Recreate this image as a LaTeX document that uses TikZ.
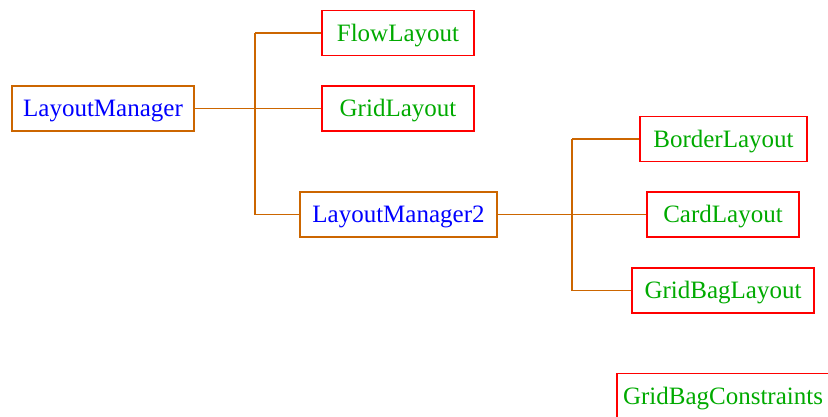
\documentclass[tikz,border=0pt]{standalone}
\usepackage{fontspec}
\setmainfont{Liberation Serif}
\definecolor{linkc}{RGB}{204,102,0}
\definecolor{txtgreen}{RGB}{0,170,0}
\definecolor{txtblue}{RGB}{0,0,255}
\tikzset{
  box/.style={draw, line width=1.3pt, minimum height=45pt, inner sep=0pt, text height=18pt, text depth=2pt, font=\fontsize{25}{30}\selectfont},
  iface/.style={box, draw=linkc, text=txtblue},
  cls/.style={box, draw=red, text=txtgreen},
  link/.style={draw=linkc, line width=1.3pt}
}
\begin{document}
\begin{tikzpicture}[x=1pt,y=-1pt]
\useasboundingbox (0,0) rectangle (828,416);
\node[iface, minimum width=182pt] (lm) at (103,108.5) {LayoutManager};
\node[cls, minimum width=152pt] (fl) at (398,33) {FlowLayout};
\node[cls, minimum width=152pt] (gl) at (398,108.5) {GridLayout};
\node[iface, minimum width=197pt] (lm2) at (398.5,214.5) {LayoutManager2};
\node[cls, minimum width=167pt] (bl) at (723.5,139) {BorderLayout};
\node[cls, minimum width=152pt] (cl) at (723,214.5) {CardLayout};
\node[cls, minimum width=182pt] (gbl) at (723,290.5) {GridBagLayout};
\node[cls, minimum width=212pt] (gbc) at (723,396) {GridBagConstraints};
\coordinate (t1top) at (255,33);
\coordinate (t1mid) at (255,108.5);
\coordinate (t1bot) at (255,214.5);
\coordinate (t2top) at (572,139);
\coordinate (t2mid) at (572,214.5);
\coordinate (t2bot) at (572,290.5);
\draw[link] (lm.east) -- (t1mid);
\draw[link] (t1top) -- (t1bot);
\draw[link] (t1top) -- (fl.west);
\draw[link] (t1mid) -- (gl.west);
\draw[link] (t1bot) -- (lm2.west);
\draw[link] (lm2.east) -- (t2mid);
\draw[link] (t2top) -- (t2bot);
\draw[link] (t2top) -- (bl.west);
\draw[link] (t2mid) -- (cl.west);
\draw[link] (t2bot) -- (gbl.west);
\end{tikzpicture}
\end{document}
